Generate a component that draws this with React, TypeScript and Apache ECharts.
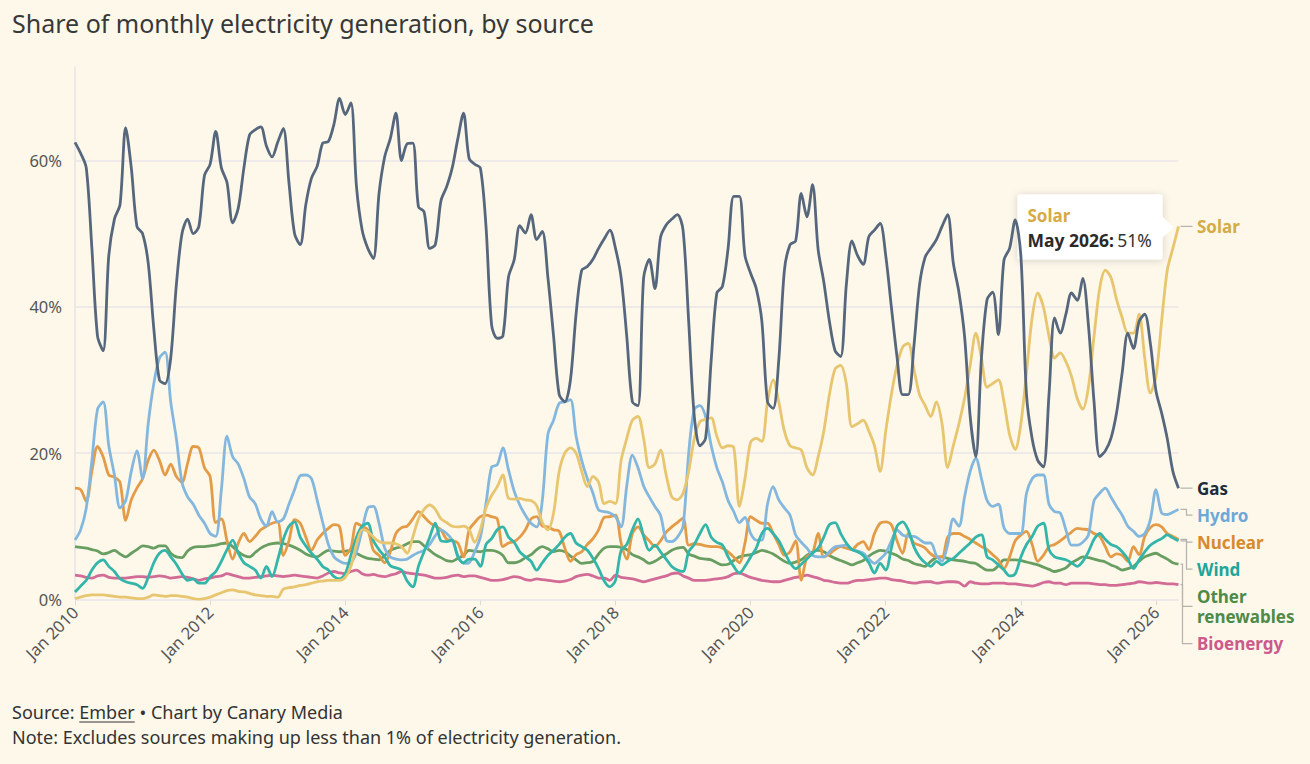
import React, { useEffect, useRef } from 'react';
import * as echarts from 'echarts';

const FONT = '"Noto Sans", "Open Sans", "DejaVu Sans", sans-serif';
const BG = '#fdf8ea';

// months Jan 2010 .. May 2026
const monthNames = ['Jan', 'Feb', 'Mar', 'Apr', 'May', 'Jun', 'Jul', 'Aug', 'Sep', 'Oct', 'Nov', 'Dec'];
const firstYear = 2010;
const lastYear = 2026;
const lastMonth = 4; // May

const months: string[] = [];
for (let y = firstYear; y <= lastYear; y++) {
  for (let m = 0; m < 12; m++) {
    if (y === lastYear && m > lastMonth) break;
    months.push(`${monthNames[m]} ${y}`);
  }
}

const yTicks = [0, 20, 40, 60];

// share of generation, %
const gas = [
  62.5, 61, 59, 48, 36, 34, 47, 52, 54, 64.5, 59, 51,
  50, 46, 37, 30, 29.5, 33, 43, 50, 52, 50, 51, 58,
  59.5, 64, 59, 57, 51.5, 53.5, 59, 63.5, 64.2, 64.6, 62, 60.5,
  62.5, 64.4, 57, 50, 48.5, 54, 57.6, 59.2, 62.4, 62.6, 65, 68.5,
  66.3, 67.9, 56.4, 50.5, 48, 46.6, 55.5, 60.5, 63, 66.5, 60, 62.3,
  62.4, 53.7, 53, 48, 48.5, 54.5, 56.4, 59, 63, 66.5, 60.3, 59.5,
  59, 51, 37.5, 35.7, 36, 44.1, 46.4, 51.1, 50.1, 52.6, 49.2, 50.3,
  44, 36, 28, 27, 30, 39, 45, 45.5, 46.5, 48, 49.3, 50.5,
  48, 44, 36, 27, 26.5, 44, 46.5, 42.5, 49.5, 51.2, 52, 52.6,
  50.5, 38, 25, 21, 22, 32.7, 41.9, 42.8, 48, 55.1, 55.1, 47,
  44.6, 42.5, 38, 27, 26.1, 32.7, 45, 48.5, 49, 55.5, 52.3, 56.7,
  47.8, 43.4, 38, 34, 33.2, 43, 49, 47, 45.8, 49.6, 50.5, 51.4,
  47, 40, 33.2, 28, 28, 34.6, 43, 46.8, 48, 49.2, 51, 52.6,
  46, 42, 36, 25, 19.5, 33, 41, 42, 36.2, 46.4, 48, 51.9,
  47, 28, 22, 19, 18.1, 28, 38.5, 36.4, 39, 41.9, 40.9, 43.9,
  37.5, 27, 19.5, 20.3, 22, 25.5, 31, 36.4, 34.3, 38, 39, 35,
  28.5, 25.5, 22, 17.5, 15.2,
];

const solar = [
  0.1, 0.3, 0.5, 0.6, 0.6, 0.6, 0.5, 0.4, 0.3, 0.3, 0.2, 0.1,
  0.1, 0.3, 0.6, 0.5, 0.4, 0.5, 0.5, 0.4, 0.3, 0.1, 0, 0.1,
  0.3, 0.6, 0.9, 1.2, 1.3, 1.1, 1, 0.8, 0.6, 0.5, 0.4, 0.4,
  0.3, 1.4, 1.6, 1.7, 1.9, 2, 2.2, 2.4, 2.5, 2.6, 2.6, 2.6,
  3, 4.5, 7.5, 9.5, 9.3, 8.5, 7.9, 7.7, 7.7, 7.6, 7.2, 6.3,
  8.5, 11, 12.3, 12.9, 12.3, 11, 10.5, 10, 9.9, 10, 9.5, 7.8,
  9.5, 12.5, 14.2, 15.4, 17, 13.8, 13.7, 13.8, 13.6, 13.5, 12.8, 10.5,
  9.5, 11.8, 17.5, 20, 20.7, 20, 17.5, 15.4, 16.8, 16, 13.1, 13.4,
  13.1, 19, 22, 24.5, 25, 22, 18, 18.5, 20.4, 17, 14, 13.6,
  14.5, 17.5, 22, 24.3, 24.6, 24.8, 22.3, 20.7, 21, 20.8, 12.7, 16.5,
  21.5, 22, 21.6, 27, 30, 27, 23, 21, 20.7, 20.4, 18, 17,
  19.5, 23, 28, 31.5, 32, 29.5, 23.6, 24, 24.5, 23, 21, 17.5,
  23, 28, 32, 34.5, 35, 31.5, 28, 26.5, 25, 27, 24, 18,
  21, 24, 27.5, 32, 36.4, 33, 29, 29.5, 30, 27, 22.5, 20.5,
  24, 31, 38.5, 41.9, 40, 36, 33, 33.7, 32.5, 30.5, 27.5, 26,
  29, 36, 42.5, 45, 44, 41, 38.5, 36.4, 36.4, 39, 33, 28.2,
  30.5, 38, 45, 48, 51,
];

const hydro = [
  8.1, 9.5, 12.5, 19, 26, 27, 21, 17, 12.5, 13.5, 17.5, 20.3,
  16.5, 24, 29.5, 33, 33.8, 27, 22, 16, 14, 13, 11.5, 10.4,
  9, 8.6, 15, 22.3, 19.5, 18.5, 16.5, 14, 13.1, 11, 10, 12,
  10.6, 11, 13, 15, 16.9, 17, 16.5, 13.6, 10.5, 7.5, 5.8, 5.2,
  4.9, 5, 6.5, 9.5, 12.5, 12.7, 10.4, 7, 5.8, 5.5, 5.4, 5.5,
  6, 6.4, 6.7, 7.5, 8.7, 9.5, 9, 8.1, 6, 4.9, 5, 6.5,
  8.5, 13.1, 18.1, 18.4, 20.7, 17.7, 14.8, 12.9, 11.5, 10.4, 9.9, 13.5,
  22.6, 24.5, 26.8, 27, 27.3, 22.3, 19, 16.5, 14.5, 12.2, 12, 11.8,
  11.3, 9.9, 15.5, 19.7, 18, 15.5, 14, 12.7, 11.5, 8.1, 7.9, 8.5,
  10, 20, 26, 26.5, 25, 21, 18, 16, 13.5, 12, 10.5, 11.2,
  9, 8.1, 8.1, 13, 15.4, 13.6, 12.5, 11.5, 8.8, 7.8, 7, 6,
  5.8, 5.8, 6.5, 7.2, 7.3, 7.4, 6.8, 6.6, 6.3, 5.5, 4.9, 5.5,
  6.3, 8, 9.5, 8.8, 8.6, 8.6, 8.2, 7.7, 7.7, 6, 5.2, 7.5,
  11, 10, 14, 17.5, 19.3, 16.5, 13.5, 12.7, 13, 9.8, 9, 9,
  9, 14.5, 16.5, 17, 17, 13, 12, 11.8, 9.5, 7.4, 7.4, 7.8,
  8.8, 13.5, 14.5, 15.2, 14, 12.7, 11.5, 10, 9.3, 8.6, 9, 10.9,
  15, 11.8, 11.6, 11.9, 12.3,
];

const nuclear = [
  15.2, 15, 13.4, 17.5, 20.9, 19.5, 17, 16.7, 16, 10.8, 13.6, 15.2,
  16.5, 19, 20.4, 19, 17, 18.5, 16.8, 16, 18.6, 20.9, 20.7, 18,
  16.8, 10.5, 11, 8, 5.5, 7.7, 9, 7.9, 8.6, 9.5, 10, 10.4,
  10.6, 6, 8, 10.9, 10.4, 8.5, 6.7, 8.1, 9, 9.7, 10.2, 9.9,
  6, 7, 10.4, 10, 9.5, 6.7, 6, 5, 6.5, 9, 9.8, 10,
  11, 12, 11.3, 10.5, 10, 9.5, 8.2, 8, 7.7, 5.8, 9.5, 10.5,
  11.3, 11.5, 11.3, 11, 7.2, 7.7, 7.9, 8.5, 9.5, 11, 11.3, 10,
  9.9, 9.5, 9.3, 7, 5.2, 6.1, 6.5, 7.5, 8.3, 9.5, 11.2, 11.3,
  11.5, 7.7, 5.5, 9, 9.9, 8.8, 8, 7.2, 8, 9.2, 9.9, 10.5,
  11.1, 7.4, 7.6, 7.5, 7.3, 7.2, 7.2, 7, 6.5, 5.8, 5, 7.7,
  11.3, 10.8, 10.4, 10.4, 9, 7.5, 6, 6.5, 8, 2.6, 5.8, 6.3,
  9, 5.8, 6.2, 6.8, 7.2, 7, 6.8, 7.5, 7.9, 6.8, 9, 10.4,
  10.6, 10.2, 8, 6.3, 9, 7.7, 7.4, 7, 6.2, 5.8, 5.8, 8.5,
  9, 9, 8.6, 8.2, 7.7, 7.2, 6.8, 6.1, 5.4, 4.2, 5.8, 8,
  8.8, 9.3, 7.5, 5.2, 6, 7.2, 7.5, 8, 8.6, 9.2, 9.7, 9.6,
  9.5, 9, 8.6, 7.2, 5.8, 6.2, 6, 5.2, 7.2, 6.1, 8.6, 9.8,
  10.2, 9.9, 9, 8.6, 8.2,
];

const wind = [
  1, 1.8, 2.6, 4, 5, 5.4, 4.5, 3.8, 2.8, 2.4, 2.2, 2,
  1.5, 3, 5, 6.3, 6.7, 5.8, 4.8, 3.5, 2.6, 2.8, 2.2, 2.2,
  3.1, 3.8, 5.2, 6.8, 8.1, 6.3, 5, 4.5, 4, 2.9, 4.5, 3.1,
  5.4, 8.2, 10, 10.6, 8.5, 7.3, 6.3, 5.5, 4.5, 4, 3.1, 2.8,
  3.5, 6, 8.5, 10, 10.4, 8, 6.8, 5.8, 4.6, 4.3, 4, 2.5,
  1.7, 4.5, 6.5, 8.5, 10.4, 8, 7.9, 8.1, 5.8, 5, 5.5, 5.5,
  4.5, 7.5, 8.3, 9.5, 9.9, 8.5, 7.8, 6.5, 5.8, 5.2, 4, 5,
  6, 6.7, 7.5, 8.5, 9, 7.7, 7.2, 6.7, 5.6, 4.2, 2.5, 1.7,
  2.6, 6.7, 7.5, 9.5, 11, 8.6, 6.7, 7.4, 6.5, 5.5, 4.5, 4,
  3.8, 6.5, 7.5, 9, 10.2, 8.5, 7.8, 7.4, 5.8, 4.5, 3.6, 4.5,
  5.8, 7, 9, 9.7, 9, 8, 6.5, 5, 4.2, 4.8, 5.5, 6.3,
  7, 8.5, 10.2, 10.5, 9, 7.7, 6.8, 6.5, 6, 5, 3.6, 4.9,
  4, 7, 10, 10.6, 9.5, 7.2, 5.8, 5, 4.5, 5.2, 4.7, 5.2,
  5.6, 6.3, 7, 7.7, 8.5, 8.8, 5.8, 5.4, 4.7, 4, 3.2, 3.5,
  5.8, 7.5, 8.6, 10, 10.4, 6.8, 5.8, 5.6, 5.4, 5, 4.5, 5.2,
  6.5, 8.2, 9, 8.2, 7.5, 7.2, 6.5, 5.5, 4.2, 5.4, 6.5, 7.4,
  7.9, 8.3, 8.8, 8.4, 8,
];

const otherRenewables = [
  7.2, 7.1, 7, 6.8, 6.6, 6.2, 6.4, 6.7, 6.2, 5.8, 6.3, 6.8,
  7.3, 7.2, 7, 7.3, 7.3, 6.3, 5.8, 5.7, 6.6, 7.1, 7.2, 7.2,
  7.3, 7.4, 7.6, 7.7, 7.2, 6.5, 6, 5.8, 6.4, 7, 7.4, 7.6,
  7.7, 7.6, 7.4, 7.1, 6.7, 6.2, 5.9, 5.8, 6.3, 6.7, 6.6, 6.5,
  6.6, 6.7, 6.3, 5.9, 5.6, 5.5, 5.4, 6, 6.7, 7, 7.2, 7.6,
  7.9, 7.9, 7.3, 6.7, 6.1, 5.7, 5.3, 5.2, 5.6, 6, 6.7, 6.6,
  6.5, 6.7, 6.7, 6.5, 6, 5, 5, 5.2, 5.7, 6.1, 6.8, 7.2,
  6.9, 6.5, 6.7, 6.5, 5.9, 5.4, 4.9, 5, 5.2, 6.2, 7, 7.2,
  7.2, 7.1, 6.8, 6.1, 5.8, 5.4, 4.9, 5.2, 5.7, 6.2, 6.7, 7,
  7.1, 6.2, 5.9, 5.6, 5.5, 5.4, 5, 4.7, 4.8, 5.3, 5.8, 6,
  6.1, 6.4, 6.7, 6.5, 6.2, 5.7, 5.2, 4.9, 5.1, 5.4, 6, 6.5,
  6.7, 6.5, 6, 5.6, 5.3, 5, 4.7, 5, 5.3, 5.9, 6.4, 6.7,
  6.6, 6.3, 6, 5.5, 5.3, 4.9, 4.7, 4.5, 5.2, 5.7, 5.8, 5.6,
  5.4, 5.3, 5.2, 5, 4.9, 4.4, 4, 4, 4.6, 5.4, 5.4, 5.4,
  5.3, 5.1, 4.9, 4.7, 4.4, 4.1, 3.8, 4, 4.3, 5, 5.4, 5.8,
  5.7, 5.5, 5.3, 5.1, 4.7, 4.4, 4, 4.2, 4.5, 5.2, 5.8, 6.1,
  6.3, 5.9, 5.5, 5, 4.8,
];

const bioenergy = [
  3.3, 3.2, 3, 2.9, 3.2, 3.3, 3, 2.9, 2.9, 2.9, 3, 3.1,
  3.1, 3, 3.1, 3.2, 3.1, 2.9, 3, 3.1, 3, 2.8, 2.6, 2.8,
  2.9, 3.1, 3.2, 3.5, 3.3, 3.1, 2.9, 2.9, 3, 3.1, 3.2, 3.3,
  3.2, 3.1, 3.2, 3.3, 3.2, 3.1, 3, 2.9, 3.2, 3.6, 3.8, 3.6,
  3.5, 3.8, 4, 3.5, 3.3, 3.4, 3.2, 3.1, 3.3, 3.5, 3.8, 3.6,
  3.5, 3.4, 3.3, 3.1, 2.9, 2.9, 3, 3.2, 3.3, 3.1, 3.2, 3.2,
  3, 2.8, 2.6, 2.6, 2.7, 2.9, 3.1, 3, 2.7, 2.6, 2.8, 2.7,
  2.6, 2.5, 2.4, 2.5, 2.7, 3.1, 3.3, 3.4, 3.2, 2.9, 2.9, 2.6,
  3.3, 3, 2.9, 2.8, 2.6, 2.4, 2.6, 2.8, 3, 3.2, 3.5, 3.6,
  3.2, 2.9, 2.6, 2.6, 2.6, 2.7, 2.8, 2.9, 3.1, 3.5, 3.6, 3.3,
  3, 2.8, 2.6, 2.5, 2.4, 2.4, 2.6, 2.8, 3, 3.1, 3.3, 3.1,
  2.9, 2.6, 2.5, 2.3, 2.2, 2.2, 2.4, 2.6, 2.6, 2.7, 2.8, 2.9,
  2.9, 2.7, 2.6, 2.5, 2.3, 2.2, 2.3, 2.4, 2.4, 2.2, 2.3, 2.4,
  2.4, 2.3, 1.8, 2.4, 2.2, 2.1, 2.1, 2.2, 2.2, 2.2, 2.1, 2.1,
  2, 1.9, 1.8, 2, 2.3, 2.4, 2.2, 2.2, 2, 2.2, 2.2, 2.2,
  2.2, 2.1, 2, 2, 1.9, 1.9, 2, 2.1, 2.2, 2.4, 2.3, 2.2,
  2.3, 2.2, 2.1, 2.1, 2,
];

// drawing order: first drawn is lowest
const sources = [
  { name: 'Bioenergy', data: bioenergy, line: '#d26b95', label: '#cc5a8a', bend: 4 },
  { name: 'Other renewables', data: otherRenewables, line: '#699e63', label: '#4e8a48', bend: 4 },
  { name: 'Nuclear', data: nuclear, line: '#e39b47', label: '#d88a2d', bend: 8 },
  { name: 'Hydro', data: hydro, line: '#84b7de', label: '#6ca8d8', bend: 8 },
  { name: 'Wind', data: wind, line: '#33b5aa', label: '#1ea698', bend: 8 },
  { name: 'Solar', data: solar, line: '#e8c56f', label: '#d5ab46', bend: 8 },
  { name: 'Gas', data: gas, line: '#56677d', label: '#1d2b3c', bend: 8 },
];

const labelText: Record<string, string> = { 'Other renewables': 'Other\nrenewables' };
const tooltipSource = 'Solar';

const GRID = { left: 75, right: 131.5, top: 67, bottom: 164.7 };
const Y_MAX = 72.8;
const LABEL_GAP = 27;
const LINE_H = 20.5;
const LABEL_SIZE = 17;

const App: React.FC = () => {
  const chartRef = useRef<HTMLDivElement | null>(null);

  useEffect(() => {
    if (!chartRef.current) return;
    const chart = echarts.init(chartRef.current, null, { renderer: 'svg' });

    const everyTwoYears = (i: number) => i % 24 === 0;

    chart.setOption({
      animation: false,
      backgroundColor: BG,
      textStyle: { fontFamily: FONT },
      title: {
        text: 'Share of monthly electricity generation, by source',
        left: 7,
        top: 5,
        textStyle: { fontSize: 25, fontWeight: 'normal', color: '#383838', fontFamily: FONT },
      },
      grid: GRID,
      xAxis: {
        type: 'category',
        data: months,
        boundaryGap: false,
        axisLine: { show: false },
        axisTick: { show: true, interval: everyTwoYears, length: 6, lineStyle: { color: '#dcdad8' } },
        axisLabel: {
          interval: everyTwoYears,
          rotate: 45,
          margin: 10,
          fontSize: 16.5,
          color: '#555',
          fontFamily: FONT,
        },
        splitLine: { show: false },
      },
      yAxis: {
        type: 'value',
        min: 0,
        max: Y_MAX,
        interval: 20,
        axisLine: { show: true, lineStyle: { color: '#e6e4e8', width: 1.5 } },
        axisTick: { show: false },
        splitLine: { show: false },
        axisLabel: {
          margin: 13,
          fontSize: 16.5,
          color: '#555',
          fontFamily: FONT,
          showMaxLabel: false,
          formatter: (v: number) => (yTicks.includes(v) ? `${v}%` : ''),
        },
      },
      series: sources.map((s, idx) => ({
        name: s.name,
        type: 'line',
        data: s.data,
        smooth: 0.3,
        showSymbol: false,
        silent: true,
        z: 2,
        lineStyle: { color: s.line, width: 2.8 },
        emphasis: { disabled: true },
        markLine:
          idx === 0
            ? {
                silent: true,
                z: 1,
                symbol: ['none', 'none'],
                label: { show: false },
                lineStyle: { color: '#e9e6ea', width: 1.5, type: 'solid' },
                data: yTicks.map(v => ({ yAxis: v })),
              }
            : undefined,
      })),
    });

    // end labels with leader lines
    const ends = sources
      .map(s => {
        const i = s.data.length - 1;
        const [x, y] = chart.convertToPixel({ gridIndex: 0 }, [i, s.data[i]]) as number[];
        return { ...s, x, y, text: labelText[s.name] ?? s.name, labelY: 0, anchorY: 0 };
      })
      .sort((a, b) => a.y - b.y);

    let prevBottom = -Infinity;
    ends.forEach(e => {
      const lines = e.text.split('\n').length;
      const top = Math.max(e.y, prevBottom + LABEL_GAP);
      e.labelY = top;
      e.anchorY = top + ((lines - 1) * LINE_H) / 2;
      prevBottom = top + (lines - 1) * LINE_H;
    });

    const graphics: any[] = [];
    ends.forEach(e => {
      graphics.push({
        type: 'polyline',
        silent: true,
        shape: {
          points: [
            [e.x + 2, e.y],
            [e.x + e.bend, e.y],
            [e.x + e.bend, e.anchorY],
            [e.x + 14, e.anchorY],
          ],
        },
        style: { stroke: '#b5b3b0', lineWidth: 1.2, fill: null },
      });
      graphics.push({
        type: 'text',
        silent: true,
        x: e.x + 18.5,
        y: e.labelY - LINE_H / 2,
        style: {
          text: e.text,
          fill: e.label,
          fontSize: LABEL_SIZE,
          fontWeight: 'bold',
          fontFamily: FONT,
          lineHeight: LINE_H,
          align: 'left',
          verticalAlign: 'top',
        },
      });
    });

    // static tooltip at the last Solar point
    const tip = ends.find(e => e.name === tooltipSource);
    if (tip) {
      const i = tip.data.length - 1;
      const px = tip.x;
      const py = tip.y;
      graphics.push({
        type: 'rect',
        silent: true,
        shape: { x: px - 161, y: py - 32, width: 145, height: 65, r: 2 },
        style: { fill: '#fff', shadowBlur: 8, shadowColor: 'rgba(0,0,0,0.16)', shadowOffsetY: 1 },
      });
      graphics.push({
        type: 'polygon',
        silent: true,
        shape: { points: [[px - 17, py - 11], [px - 5, py + 1], [px - 17, py + 12]] },
        style: { fill: '#fff' },
      });
      graphics.push({
        type: 'text',
        silent: true,
        x: px - 151,
        y: py - 11,
        style: {
          text: tip.name,
          fill: tip.label,
          fontSize: 17,
          fontWeight: 'bold',
          fontFamily: FONT,
          verticalAlign: 'middle',
        },
      });
      graphics.push({
        type: 'text',
        silent: true,
        x: px - 151,
        y: py + 14,
        style: {
          text: `{b|${months[i]}:} {n|${Math.round(tip.data[i])}%}`,
          verticalAlign: 'middle',
          rich: {
            b: { fontSize: 17.5, fontWeight: 'bold', fill: '#2a2a2a', fontFamily: FONT },
            n: { fontSize: 17.5, fill: '#333', fontFamily: FONT },
          },
        },
      });
    }

    // footer
    const FOOT_SIZE = 18;
    const ctx = document.createElement('canvas').getContext('2d');
    let ux = 75;
    let uw = 54;
    if (ctx) {
      ctx.font = `${FOOT_SIZE}px ${FONT}`;
      ux = ctx.measureText('Source: ').width;
      uw = ctx.measureText('Ember').width;
    }
    graphics.push({
      type: 'text',
      silent: true,
      x: 12,
      y: 712,
      style: {
        text: 'Source: Ember • Chart by Canary Media',
        fill: '#333',
        fontSize: FOOT_SIZE,
        fontFamily: FONT,
        verticalAlign: 'middle',
      },
    });
    graphics.push({
      type: 'line',
      silent: true,
      shape: { x1: 12 + ux, y1: 722, x2: 12 + ux + uw, y2: 722 },
      style: { stroke: '#333', lineWidth: 1 },
    });
    graphics.push({
      type: 'text',
      silent: true,
      x: 12,
      y: 737,
      style: {
        text: 'Note: Excludes sources making up less than 1% of electricity generation.',
        fill: '#333',
        fontSize: FOOT_SIZE,
        fontFamily: FONT,
        verticalAlign: 'middle',
      },
    });

    chart.setOption({ graphic: graphics });

    return () => {
      chart.dispose();
    };
  }, []);

  return (
    <div style={{ position: 'absolute', left: 0, top: 0, width: 1310, height: 764, background: BG }}>
      <div ref={chartRef} style={{ width: '1310px', height: '764px' }} />
    </div>
  );
};

export default App;
